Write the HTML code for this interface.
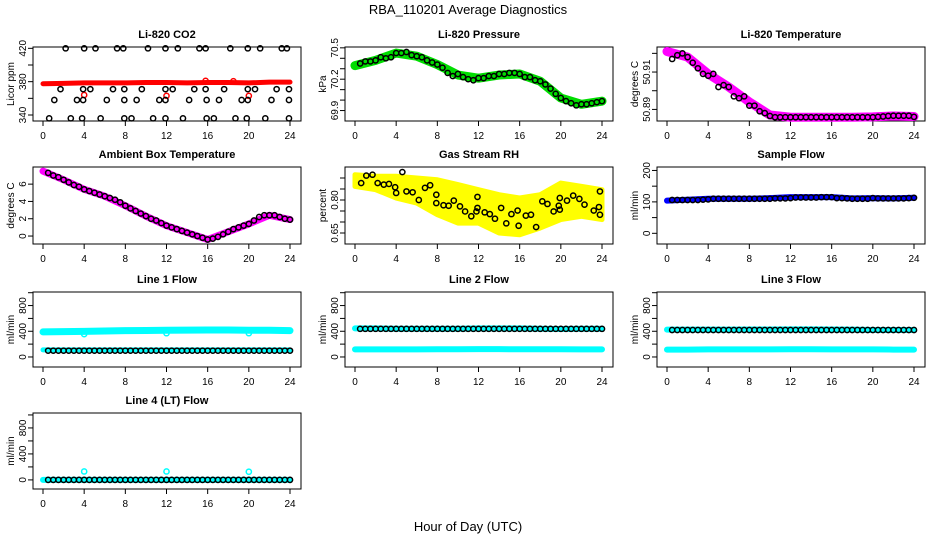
<!DOCTYPE html>
<html><head><meta charset="utf-8">
<style>
html,body{margin:0;padding:0;background:#fff;}
svg{display:block;font-family:"Liberation Sans",Arial,sans-serif;}
</style></head>
<body>
<svg id="chart" width="936" height="540" viewBox="0 0 936 540" xmlns="http://www.w3.org/2000/svg">
<rect width="936" height="540" fill="#fff"/>
<text x="468" y="14" font-size="13" text-anchor="middle">RBA_110201  Average Diagnostics</text>
<text x="468" y="531" font-size="13" text-anchor="middle">Hour of Day (UTC)</text>
</svg>
<script>
const HOURS = [0.5,1,1.5,2,2.5,3,3.5,4,4.5,5,5.5,6,6.5,7,7.5,8,8.5,9,9.5,10,10.5,11,11.5,12,12.5,13,13.5,14,14.5,15,15.5,16,16.5,17,17.5,18,18.5,19,19.5,20,20.5,21,21.5,22,22.5,23,23.5,24];
const HOURS_BAND = [0,2,4,6,8,10,12,14,16,18,20,22,24];
const X_TICKS = [0,4,8,12,16,20,24];

// CO2
const co2Red = [377.5,378,378.5,378.5,378.5,379,379,378.5,379,379,378.5,379.5,379.5];
const co2RedOutH = [4,12,20,15.8,18.5];
const co2RedOutV = [364,363,363,381,380.5];
const co2BlackH = [2.2,4.0,5.1,7.2,7.8,10.2,11.9,13.1,15.2,15.8,18.2,19.9,21.1,23.2,23.7,
 1.7,3.9,4.6,6.8,7.9,9.6,11.9,12.6,14.7,15.8,17.6,19.9,20.6,22.7,23.9,
 1.1,3.3,3.9,6.2,7.9,9.1,11.3,11.9,14.2,15.9,17.1,19.3,19.9,22.2,23.9,
 0.6,2.7,3.8,5.6,7.9,8.6,10.7,11.9,13.6,15.9,16.6,18.7,19.8,21.6,23.9];
const co2BlackV = [420,420,420,420,420,420,420,420,420,420,420,420,420,420,420,
 371,371,371,371,371,371,371,371,371,371,371,371,371,371,371,
 358,358,358,358,358,358,358,358,358,358,358,358,358,358,358,
 336,336,336,336,336,336,336,336,336,336,336,336,336,336,336];

// Pressure
const presBlack = [70.35,70.37,70.37,70.38,70.41,70.40,70.41,70.45,70.45,70.46,70.43,70.42,70.41,70.38,70.36,70.34,70.31,70.26,70.23,70.25,70.22,70.20,70.19,70.21,70.21,70.23,70.23,70.25,70.25,70.26,70.26,70.25,70.22,70.22,70.19,70.18,70.15,70.11,70.06,70.02,69.99,69.97,69.95,69.96,69.96,69.97,69.98,69.99];
const presGreen = [70.33,70.38,70.45,70.42,70.34,70.24,70.21,70.24,70.25,70.18,70.02,69.96,69.99];

// Li-820 temperature
const ltBlack = [50.917,50.919,50.920,50.918,50.915,50.912,50.909,50.908,50.909,50.902,50.903,50.902,50.897,50.896,50.897,50.892,50.892,50.889,50.888,50.8865,50.8858,50.8858,50.8858,50.8858,50.8858,50.8858,50.8858,50.8858,50.8858,50.8858,50.8858,50.8858,50.8858,50.8858,50.8858,50.8858,50.8858,50.8858,50.8858,50.8858,50.886,50.8862,50.8865,50.8866,50.8866,50.8866,50.8866,50.886];
const ltMag = [50.921,50.918,50.909,50.902,50.894,50.887,50.8858,50.8858,50.8858,50.8858,50.886,50.8865,50.8862];

// Ambient
const ambBlack = [7.3,7.0,6.8,6.5,6.2,5.9,5.7,5.4,5.2,5.0,4.8,4.6,4.4,4.2,3.9,3.5,3.2,2.9,2.6,2.3,2.0,1.8,1.5,1.2,1.0,0.8,0.6,0.4,0.2,0.0,-0.2,-0.4,-0.3,-0.1,0.2,0.5,0.8,1.0,1.2,1.4,1.8,2.2,2.4,2.4,2.4,2.2,2.0,1.9];
const ambMag = [7.5,6.5,5.4,4.6,3.5,2.3,1.2,0.4,-0.4,0.5,1.4,2.4,1.9];

// RH
const rhUpper = [0.915,0.908,0.908,0.900,0.892,0.870,0.847,0.824,0.809,0.824,0.877,0.862,0.847];
const rhLower = [0.862,0.847,0.809,0.786,0.733,0.695,0.695,0.650,0.642,0.673,0.711,0.726,0.711];
const rhBlackH = [0.6,1.1,1.7,2.2,2.8,3.3,3.9,4.0,4.6,5.0,5.6,6.2,6.8,7.3,7.9,7.9,8.6,9.1,9.6,10.2,10.7,11.3,11.8,11.9,11.9,12.6,13.1,13.6,14.2,14.7,15.2,15.8,15.9,16.6,17.1,17.6,18.2,18.7,19.3,19.8,19.9,19.9,20.6,21.2,21.8,22.3,23.2,23.7,23.8,23.8];
const rhBlackV = [0.877,0.911,0.915,0.877,0.870,0.873,0.858,0.832,0.927,0.839,0.835,0.800,0.855,0.867,0.824,0.786,0.776,0.774,0.797,0.771,0.748,0.726,0.748,0.764,0.814,0.744,0.736,0.715,0.764,0.694,0.736,0.752,0.683,0.729,0.733,0.677,0.794,0.782,0.748,0.774,0.809,0.756,0.797,0.820,0.805,0.779,0.752,0.768,0.733,0.839];

// Sample flow
const sfBlue = [104,107,110,110,110,112,115,115,115,111,112,111,113];
const sfBlack = [106,106,106,106,106,106,107,108,110,110,110,110,110,110,110,110,110,110,110,110,111,111,111,112,114,114,114,114,114,115,115,115,112,112,111,110,110,110,110,112,111,111,111,111,111,111,112,113];

// Line flows
const l1Upper = [390,395,398,405,410,412,415,418,420,420,415,415,410];
const l1Lower = [110,110,110,110,110,110,110,110,110,110,110,110,110];
const l1Dips = [355,370,370];
const l1Black = 98;
const l2Upper = [445,445,440,440,440,440,445,445,445,440,435,440,440];
const l2Lower = [118,118,118,118,120,120,122,122,120,120,120,118,118];
const l2Black = 438;
const l3Upper = [425,425,425,425,428,428,430,430,428,425,420,420,420];
const l3Lower = [115,115,118,118,118,118,120,120,118,118,118,115,115];
const l3Black = 420;
const l4Cyan = [0,0,0,0,0,0,0,0,0,0,0,0,0];
const l4Spikes = [130,130,125];
const l4Black = 0;
const SPIKE_H = [4,12,20];

const NS = "http://www.w3.org/2000/svg";
const svg = document.getElementById('chart');
function mk(tag, attrs, parent){
  const e = document.createElementNS(NS, tag);
  for (const k in attrs) e.setAttribute(k, attrs[k]);
  (parent||svg).appendChild(e);
  return e;
}
const COLS = [[33,301],[345,613],[657,925]];
const ROWS = [[47,121],[167,244],[292,367],[413,489]];

function panel(col,row,title,ylab,ylim,ticks,labels,slug){
  const [L,R] = COLS[col], [T,B] = ROWS[row];
  const g = mk('g',{});
  
  
  const x = h => (L+10) + h*(R-11-(L+10))/24;
  const y = v => B - (v-ylim[0])*(B-T)/(ylim[1]-ylim[0]);
  const box = mk('rect',{x:L,y:T,width:R-L,height:B-T,fill:'none',stroke:'#000','stroke-width':1},g);
  
  
  const t = mk('text',{x:(L+R)/2,y:T-9,'font-size':11,'font-weight':'bold','text-anchor':'middle'},g);
  t.textContent = title;
  
  
  const yl = mk('text',{transform:`translate(${L-19},${(T+B)/2}) rotate(-90)`,'font-size':10,'text-anchor':'middle'},g);
  yl.textContent = ylab;
  
  
  const xa = mk('g',{},g);
  
  
  X_TICKS.forEach(h=>{
    mk('line',{x1:x(h),x2:x(h),y1:B,y2:B+5,stroke:'#000'},xa);
    const tl = mk('text',{x:x(h),y:B+18,'font-size':10,'text-anchor':'middle'},xa);
    tl.textContent = h;
  });
  const ya = mk('g',{},g);
  
  
  ticks.forEach((v,i)=>{
    mk('line',{x1:L,x2:L-5,y1:y(v),y2:y(v),stroke:'#000'},ya);
    if (labels[i]!=='') {
      const tl = mk('text',{transform:`translate(${L-7},${y(v)}) rotate(-90)`,'font-size':10,'text-anchor':'middle'},ya);
      tl.textContent = labels[i];
    }
  });
  const data = mk('g',{},g);
  
  
  return {x,y,g:data};
}
function band(p,hs,vs,color,w,name){
  const pts = hs.map((h,i)=>p.x(h)+','+p.y(vs[i])).join(' ');
  const e = mk('polyline',{points:pts,fill:'none',stroke:color,'stroke-width':w,'stroke-linejoin':'round','stroke-linecap':'round'},p.g);
  
  
}
function area(p,hs,up,lo,color,name){
  const pts = hs.map((h,i)=>p.x(h)+','+p.y(up[i])).concat(hs.slice().reverse().map((h,j)=>p.x(h)+','+p.y(lo[hs.length-1-j]))).join(' ');
  const e = mk('polygon',{points:pts,fill:color,stroke:color,'stroke-width':5,'stroke-linejoin':'round'},p.g);
  
  
}
function pts(p,hs,vs,color,name){
  hs.forEach((h,i)=>{
    const c = mk('circle',{cx:p.x(h),cy:p.y(vs[i]),r:2.6,fill:'none',stroke:color,'stroke-width':1.5},p.g);
    
    
  });
}
const FLOW_TICKS=[0,200,400,600,800,1000], FLOW_LAB=['0','','400','','800',''];

let p = panel(0,0,'Li-820 CO2','Licor ppm',[332.8,421.6],[340,360,380,400,420],['340','','380','','420'],'co2');
band(p,HOURS_BAND,co2Red,'#ff0000',5,'co2-red-band');
pts(p,co2RedOutH,co2RedOutV,'#ff0000','co2-red-point');
pts(p,co2BlackH,co2BlackV,'#000','co2-black-point');

p = panel(1,0,'Li-820 Pressure','kPa',[69.80,70.508],[69.9,70.0,70.1,70.2,70.3,70.4,70.5],['69.9','','','70.2','','','70.5'],'pressure');
band(p,HOURS_BAND,presGreen,'#00dd00',9,'pressure-green-band');
pts(p,HOURS,presBlack,'#000','pressure-black-point');

p = panel(2,0,'Li-820 Temperature','degrees C',[50.8838,50.9234],[50.89,50.90,50.91,50.92],['50.89','','50.91',''],'li820-temp');
band(p,HOURS_BAND,ltMag,'#ff00ff',9,'li820-temp-magenta-band');
pts(p,HOURS,ltBlack,'#000','li820-temp-black-point');

p = panel(0,1,'Ambient Box Temperature','degrees C',[-0.92,7.98],[0,2,4,6],['0','2','4','6'],'ambient');
band(p,HOURS_BAND,ambMag,'#ff00ff',7,'ambient-magenta-band');
pts(p,HOURS,ambBlack,'#000','ambient-black-point');

p = panel(1,1,'Gas Stream RH','percent',[0.60,0.95],[0.65,0.70,0.75,0.80,0.85,0.90],['0.65','','','0.80','',''],'rh');
area(p,HOURS_BAND,rhUpper,rhLower,'#ffff00','rh-yellow-cloud');
pts(p,rhBlackH,rhBlackV,'#000','rh-black-point');

p = panel(2,1,'Sample Flow','ml/min',[-34,211],[0,50,100,150,200],['0','','100','','200'],'sample-flow');
band(p,HOURS_BAND,sfBlue,'#0000ff',6,'sample-flow-blue-band');
pts(p,HOURS,sfBlack,'#000','sample-flow-black-point');

p = panel(0,2,'Line 1 Flow','ml/min',[-156,1011],FLOW_TICKS,FLOW_LAB,'line1');
band(p,HOURS_BAND,l1Upper,'#00ffff',7,'line1-cyan-upper');
band(p,HOURS_BAND,l1Lower,'#00ffff',5,'line1-cyan-lower');
pts(p,SPIKE_H,l1Dips,'#00ffff','line1-cyan-dip');
pts(p,HOURS,HOURS.map(()=>l1Black),'#000','line1-black-point');

p = panel(1,2,'Line 2 Flow','ml/min',[-156,1011],FLOW_TICKS,FLOW_LAB,'line2');
band(p,HOURS_BAND,l2Upper,'#00ffff',6,'line2-cyan-upper');
band(p,HOURS_BAND,l2Lower,'#00ffff',6,'line2-cyan-lower');
pts(p,HOURS,HOURS.map(()=>l2Black),'#000','line2-black-point');

p = panel(2,2,'Line 3 Flow','ml/min',[-156,1011],FLOW_TICKS,FLOW_LAB,'line3');
band(p,HOURS_BAND,l3Upper,'#00ffff',6,'line3-cyan-upper');
band(p,HOURS_BAND,l3Lower,'#00ffff',6,'line3-cyan-lower');
pts(p,HOURS,HOURS.map(()=>l3Black),'#000','line3-black-point');

p = panel(0,3,'Line 4 (LT) Flow','ml/min',[-140,1030],FLOW_TICKS,FLOW_LAB,'line4');
band(p,HOURS_BAND,l4Cyan,'#00ffff',6,'line4-cyan-band');
pts(p,SPIKE_H,l4Spikes,'#00ffff','line4-cyan-spike');
pts(p,HOURS,HOURS.map(()=>l4Black),'#000','line4-black-point');
</script>
</body></html>
